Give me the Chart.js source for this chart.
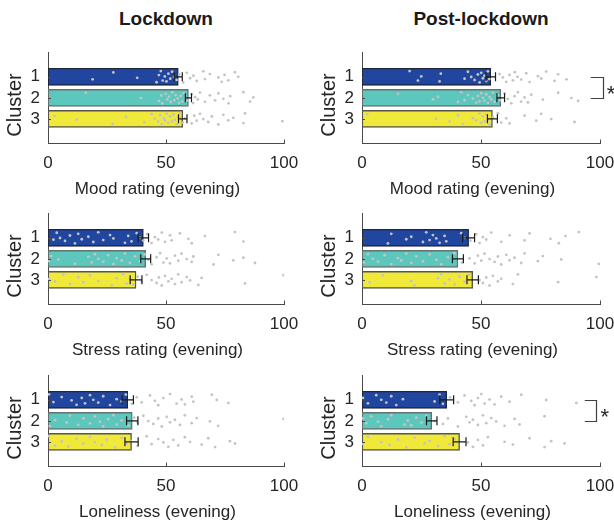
<!DOCTYPE html>
<html>
<head>
<meta charset="utf-8">
<script src="https://cdn.jsdelivr.net/npm/chart.js@4.4.1/dist/chart.umd.min.js"></script>
<style>
  html, body { margin: 0; padding: 0; background: #fff; }
  body { position: relative; width: 614px; height: 521px; overflow: hidden; font-family: "Liberation Sans", Arial, sans-serif; }
  .coltitle { position: absolute; top: 8px; width: 240px; text-align: center; font-weight: bold; font-size: 19px; color: #1a1a1a; }
  canvas { position: absolute; }
</style>
</head>
<body>
<div class="coltitle" id="t0"></div>
<div class="coltitle" id="t1"></div>
<script>
// ---- data ----
const PERIODS = ['Lockdown', 'Post-lockdown'];
const MEASURES = ['Mood rating (evening)', 'Stress rating (evening)', 'Loneliness (evening)'];
const CLUSTERS = ['1', '2', '3'];
const X_TICKS = [0, 50, 100];

// cluster means and standard errors
const MOOD_LOCK_MEAN = [55.2, 59.5, 57.1];
const MOOD_LOCK_SE = [1.7, 1.3, 1.8];
const MOOD_POST_MEAN = [54.1, 58.3, 54.8];
const MOOD_POST_SE = [2.0, 1.6, 2.1];
const STRESS_LOCK_MEAN = [40.4, 41.4, 37.3];
const STRESS_LOCK_SE = [2.2, 2.1, 2.5];
const STRESS_POST_MEAN = [44.8, 40.3, 46.5];
const STRESS_POST_SE = [2.5, 2.3, 2.4];
const LONELY_LOCK_MEAN = [33.8, 35.7, 35.4];
const LONELY_LOCK_SE = [2.4, 2.4, 2.8];
const LONELY_POST_MEAN = [35.6, 29.3, 41.0];
const LONELY_POST_SE = [2.9, 2.2, 2.7];

// individual participant ratings per cluster
const MOOD_LOCK_C1 = [18.9, 27.7, 37.8, 46.0, 47.0, 47.8, 48.6, 49.5, 50.2, 51.0, 51.8, 52.6, 53.4, 54.5, 55.6, 57.3, 58.8, 60.2, 61.6, 63.0, 65.8, 66.5, 68.6, 72.2, 73.6, 74.8, 76.4, 79.2, 80.6];
const MOOD_LOCK_C2 = [16.0, 39.3, 47.0, 48.0, 48.4, 49.9, 50.5, 51.3, 52.0, 52.7, 53.5, 54.1, 55.0, 55.5, 56.2, 56.9, 57.5, 58.3, 59.0, 60.9, 61.5, 62.3, 63.5, 64.4, 66.5, 68.6, 70.8, 72.2, 74.3, 76.5, 77.2, 82.8, 85.6, 87.0];
const MOOD_LOCK_C3 = [2.7, 12.1, 27.4, 33.1, 40.8, 43.9, 45.3, 46.7, 47.5, 48.2, 49.0, 49.6, 50.3, 51.0, 51.7, 52.4, 53.1, 53.8, 54.5, 55.2, 56.0, 57.1, 58.0, 60.9, 62.0, 63.0, 64.4, 65.8, 67.9, 69.4, 72.2, 74.3, 76.4, 78.5, 82.8, 83.5, 99.3];
const MOOD_POST_C1 = [20.0, 23.5, 24.9, 32.6, 33.1, 43.1, 44.5, 45.9, 47.3, 48.7, 49.4, 50.1, 50.8, 51.5, 52.2, 52.9, 53.5, 57.8, 59.2, 60.6, 62.0, 63.4, 64.2, 65.3, 66.9, 69.0, 70.4, 73.9, 75.3, 77.4, 80.9, 82.4, 85.9];
const MOOD_POST_C2 = [15.1, 29.8, 31.9, 40.3, 41.7, 43.1, 44.5, 46.6, 48.0, 48.7, 49.4, 50.1, 50.8, 51.5, 52.2, 52.9, 53.6, 54.3, 55.0, 55.7, 57.1, 58.0, 59.9, 61.3, 62.7, 64.1, 65.5, 66.9, 68.3, 69.7, 71.1, 76.0, 82.4, 88.0, 90.8];
const MOOD_POST_C3 = [2.2, 31.2, 36.8, 40.3, 42.4, 46.6, 48.0, 49.4, 50.1, 50.8, 51.5, 52.2, 52.9, 53.6, 55.0, 57.1, 58.5, 60.6, 62.0, 68.3, 73.2, 75.3, 79.5, 89.3];
const STRESS_LOCK_C1 = [2.3, 3.7, 5.1, 7.2, 9.3, 11.4, 12.8, 14.3, 17.1, 19.2, 21.3, 23.4, 26.3, 27.7, 32.6, 34.0, 35.4, 37.6, 39.0, 40.4, 42.0, 43.9, 45.3, 46.7, 48.2, 49.6, 51.7, 52.4, 55.9, 59.5, 60.9, 66.5, 79.2, 82.8];
const STRESS_LOCK_C2 = [0.4, 1.3, 4.4, 11.4, 17.1, 18.5, 19.9, 21.3, 23.4, 25.5, 27.7, 29.1, 31.2, 32.6, 34.7, 36.9, 39.0, 41.0, 42.5, 43.9, 46.0, 47.5, 48.9, 50.3, 51.7, 53.8, 55.2, 56.6, 58.8, 60.9, 61.6, 70.1, 72.2, 78.5, 82.8, 87.7];
const STRESS_LOCK_C3 = [0.4, 3.0, 6.5, 9.3, 12.8, 15.0, 17.8, 21.3, 27.0, 29.1, 31.9, 33.3, 34.7, 36.2, 38.0, 39.7, 41.8, 43.9, 46.0, 47.0, 48.2, 49.6, 51.0, 52.4, 53.8, 55.2, 56.6, 58.8, 60.2, 63.7, 65.1, 83.5, 99.8];
const STRESS_POST_C1 = [10.9, 12.3, 18.6, 20.7, 25.6, 27.0, 28.4, 29.8, 31.2, 32.6, 34.7, 35.4, 41.7, 43.1, 45.5, 48.0, 49.4, 50.8, 52.2, 54.3, 58.5, 62.0, 68.3, 70.4, 79.2, 82.7, 85.5, 91.1];
const STRESS_POST_C2 = [0.8, 2.5, 4.6, 6.7, 9.5, 12.3, 15.1, 16.5, 18.6, 20.7, 22.8, 25.6, 28.4, 31.2, 33.3, 36.1, 38.9, 42.0, 45.2, 47.3, 48.7, 50.1, 51.5, 53.6, 55.7, 57.1, 58.5, 60.6, 62.0, 64.1, 66.9, 68.3, 73.9, 76.0, 83.7, 99.5];
const STRESS_POST_C3 = [3.2, 8.8, 20.7, 22.0, 31.9, 33.3, 34.7, 36.8, 38.9, 41.0, 43.1, 45.0, 49.4, 50.8, 52.2, 53.6, 55.0, 57.1, 58.5, 63.4, 65.5, 82.4, 98.5];
const LONELY_LOCK_C1 = [0.4, 2.3, 5.8, 10.0, 12.1, 14.3, 15.7, 17.8, 19.2, 21.3, 23.4, 26.3, 29.1, 31.2, 33.0, 35.5, 37.6, 39.7, 43.2, 45.3, 46.7, 48.9, 51.7, 54.5, 56.6, 58.0, 60.9, 61.6, 69.4, 71.5, 76.4];
const LONELY_LOCK_C2 = [0.8, 3.0, 7.9, 9.3, 12.8, 15.0, 17.8, 19.9, 22.0, 23.4, 25.5, 27.7, 29.1, 31.2, 34.0, 36.5, 38.0, 40.4, 42.5, 44.6, 46.7, 48.2, 50.3, 51.7, 53.8, 55.9, 58.0, 60.9, 63.0, 68.6, 72.1, 99.8];
const LONELY_LOCK_C3 = [0.2, 3.0, 5.8, 8.6, 12.1, 15.0, 17.8, 19.9, 22.8, 24.9, 28.4, 31.2, 33.3, 35.0, 38.0, 41.8, 43.9, 46.7, 48.9, 51.0, 53.1, 55.2, 58.0, 60.2, 65.1, 67.9, 70.8, 77.1, 79.2];
const LONELY_POST_C1 = [0.4, 2.5, 6.0, 8.1, 10.2, 12.3, 14.4, 17.2, 30.5, 32.6, 34.0, 37.0, 40.3, 43.1, 45.9, 47.3, 48.7, 50.1, 51.5, 53.6, 55.7, 58.5, 62.0, 66.9, 77.4, 90.1];
const LONELY_POST_C2 = [0.4, 1.8, 3.9, 6.7, 8.1, 10.9, 12.3, 17.9, 19.3, 20.7, 22.8, 25.0, 27.0, 30.5, 34.0, 36.1, 40.3, 43.8, 45.2, 46.6, 48.7, 50.8, 52.2, 54.3, 56.4, 59.9, 64.1, 66.2, 76.7];
const LONELY_POST_C3 = [0.4, 2.5, 8.1, 11.6, 15.1, 18.6, 22.1, 26.3, 28.4, 31.9, 34.7, 36.8, 39.0, 44.5, 46.6, 48.7, 50.8, 52.9, 59.9, 63.4, 70.4, 76.7, 79.5, 85.1];

// fixed vertical jitter (in cluster units) for the individual dots
const JITTER = [0.12, -0.21, 0.05, 0.26, -0.08, -0.27, 0.18, -0.02, 0.22, -0.15, 0.09, -0.24, 0.01, 0.15, -0.11, 0.27, -0.19, 0.07, -0.05, 0.20, -0.26, 0.11, -0.13, 0.03, 0.24, -0.09, 0.17, -0.22, 0.00, 0.13, -0.17, 0.25, -0.03, 0.08, -0.25, 0.19, -0.12];

// ---- styling ----
const FONT = '"Liberation Sans", Arial, Helvetica, sans-serif';
const TEXT = '#262626';
const AXIS = '#4a4a4a';
const BAR_FILL = ['#2146a0', '#5cc7bc', '#f0e93a'];
const BAR_EDGE = ['#20263a', '#66706e', '#55554a'];
const DOT = '#c4c4c4';

const PANELS = [
  { col: 0, row: 0, xTitle: MEASURES[0], mean: MOOD_LOCK_MEAN, se: MOOD_LOCK_SE, pts: [MOOD_LOCK_C1, MOOD_LOCK_C2, MOOD_LOCK_C3] },
  { col: 1, row: 0, xTitle: MEASURES[0], mean: MOOD_POST_MEAN, se: MOOD_POST_SE, pts: [MOOD_POST_C1, MOOD_POST_C2, MOOD_POST_C3],
    sig: { pair: [1, 2], from: 96.1, to: 101.3, star: 104.6 } },
  { col: 0, row: 1, xTitle: MEASURES[1], mean: STRESS_LOCK_MEAN, se: STRESS_LOCK_SE, pts: [STRESS_LOCK_C1, STRESS_LOCK_C2, STRESS_LOCK_C3] },
  { col: 1, row: 1, xTitle: MEASURES[1], mean: STRESS_POST_MEAN, se: STRESS_POST_SE, pts: [STRESS_POST_C1, STRESS_POST_C2, STRESS_POST_C3] },
  { col: 0, row: 2, xTitle: MEASURES[2], mean: LONELY_LOCK_MEAN, se: LONELY_LOCK_SE, pts: [LONELY_LOCK_C1, LONELY_LOCK_C2, LONELY_LOCK_C3] },
  { col: 1, row: 2, xTitle: MEASURES[2], mean: LONELY_POST_MEAN, se: LONELY_POST_SE, pts: [LONELY_POST_C1, LONELY_POST_C2, LONELY_POST_C3],
    sig: { pair: [1, 2], from: 93.6, to: 98.4, star: 102.0 } }
];

const COL_LEFT = [0, 314];
const COL_WIDTH = [307, 300];
const COL_PAD_RIGHT = [23, 14];
const ROW_TOP = [40, 201, 363];
const CANVAS_H = 161;

document.getElementById('t0').textContent = PERIODS[0];
document.getElementById('t0').style.left = (166 - 120) + 'px';
document.getElementById('t1').textContent = PERIODS[1];
document.getElementById('t1').style.left = (314 + 167 - 120) + 'px';

function dots(groups, shift) {
  const out = [];
  groups.forEach((vals, i) => {
    vals.forEach((v, j) => {
      out.push({ x: v, y: Number(CLUSTERS[i]) + JITTER[(j + shift + i * 11) % JITTER.length] });
    });
  });
  return out;
}

// error bars, inward ticks, axis titles and significance brackets
const panelDecor = {
  id: 'panelDecor',
  afterDatasetsDraw(chart) {
    const cfg = chart.options.plugins.panelDecor;
    const { ctx, scales: { x, y } } = chart;
    ctx.save();
    ctx.strokeStyle = '#1a1a1a';
    ctx.lineWidth = 1.2;
    cfg.mean.forEach((m, i) => {
      const py = y.getPixelForValue(Number(CLUSTERS[i]));
      const x0 = x.getPixelForValue(m - cfg.se[i]);
      const x1 = x.getPixelForValue(m + cfg.se[i]);
      ctx.beginPath();
      ctx.moveTo(x0, py); ctx.lineTo(x1, py);
      ctx.moveTo(x0, py - 4.5); ctx.lineTo(x0, py + 4.5);
      ctx.moveTo(x1, py - 4.5); ctx.lineTo(x1, py + 4.5);
      ctx.stroke();
    });
    ctx.restore();
  },
  afterDraw(chart) {
    const cfg = chart.options.plugins.panelDecor;
    const { ctx, chartArea: a, scales: { x, y } } = chart;
    ctx.save();
    // tick marks pointing into the plot
    ctx.strokeStyle = AXIS;
    ctx.lineWidth = 1;
    ctx.beginPath();
    X_TICKS.forEach(v => {
      const px = Math.round(x.getPixelForValue(v)) + 0.5;
      ctx.moveTo(px, a.bottom); ctx.lineTo(px, a.bottom - 3.5);
    });
    CLUSTERS.forEach(c => {
      const py = Math.round(y.getPixelForValue(Number(c))) + 0.5;
      ctx.moveTo(a.left, py); ctx.lineTo(a.left + 3, py);
    });
    ctx.stroke();

    // axis titles
    ctx.fillStyle = TEXT;
    ctx.font = '17px ' + FONT;
    ctx.textAlign = 'center';
    ctx.textBaseline = 'alphabetic';
    ctx.fillText(cfg.xTitle, (a.left + a.right) / 2 - 8.5, a.bottom + 51);
    ctx.save();
    ctx.translate(a.left - 32.5, (a.top + a.bottom) / 2 + 7.5);
    ctx.rotate(-Math.PI / 2);
    ctx.font = '20px ' + FONT;
    ctx.textBaseline = 'middle';
    ctx.fillText('Cluster', 0, 0);
    ctx.restore();

    // significance bracket between two clusters
    if (cfg.sig) {
      const s = cfg.sig;
      const ya = Math.round(y.getPixelForValue(s.pair[0])) + 0.5;
      const yb = Math.round(y.getPixelForValue(s.pair[1])) + 0.5;
      const xa = x.getPixelForValue(s.from);
      const xb = Math.round(x.getPixelForValue(s.to)) + 0.5;
      ctx.strokeStyle = '#404040';
      ctx.lineWidth = 1.2;
      ctx.beginPath();
      ctx.moveTo(xa, ya); ctx.lineTo(xb, ya); ctx.lineTo(xb, yb); ctx.lineTo(xa, yb);
      ctx.stroke();
      ctx.fillStyle = TEXT;
      ctx.font = '22px ' + FONT;
      ctx.textAlign = 'center';
      ctx.textBaseline = 'alphabetic';
      ctx.fillText('*', x.getPixelForValue(s.star), (ya + yb) / 2 + 12.5);
    }
    ctx.restore();
  }
};

PANELS.forEach((p, k) => {
  const cv = document.createElement('canvas');
  const w = COL_WIDTH[p.col];
  cv.width = w; cv.height = CANVAS_H;
  cv.style.left = COL_LEFT[p.col] + 'px';
  cv.style.top = ROW_TOP[p.row] + 'px';
  cv.style.width = w + 'px';
  cv.style.height = CANVAS_H + 'px';
  document.body.appendChild(cv);

  new Chart(cv, {
    type: 'bar',
    data: {
      datasets: [
        {
          type: 'bar',
          data: CLUSTERS.map((c, i) => ({ x: p.mean[i], y: Number(c) })),
          backgroundColor: BAR_FILL,
          borderColor: BAR_EDGE,
          borderWidth: 1.4,
          borderSkipped: false,
          barThickness: 17,
          order: 2
        },
        {
          type: 'scatter',
          data: dots(p.pts, k * 5),
          backgroundColor: DOT,
          borderWidth: 0,
          pointRadius: 1.4,
          pointHoverRadius: 1.4,
          order: 1
        }
      ]
    },
    options: {
      indexAxis: 'y',
      responsive: false,
      animation: false,
      devicePixelRatio: 1,
      events: [],
      layout: { padding: { top: 12, right: COL_PAD_RIGHT[p.col], left: 0, bottom: 0 } },
      plugins: {
        legend: { display: false },
        tooltip: { enabled: false },
        panelDecor: { mean: p.mean, se: p.se, xTitle: p.xTitle, sig: p.sig || null }
      },
      scales: {
        x: {
          type: 'linear', position: 'bottom', min: 0, max: 100, offset: false,
          afterBuildTicks: s => { s.ticks = X_TICKS.map(v => ({ value: v })); },
          afterFit: s => { s.height = 58; s.paddingLeft = 0; s.paddingRight = 0; },
          grid: { display: false, drawTicks: false, offset: false },
          border: { display: true, color: AXIS, width: 1 },
          ticks: { padding: 10, color: TEXT, font: { family: FONT, size: 17 }, maxRotation: 0, autoSkip: false }
        },
        y: {
          type: 'linear', position: 'left', reverse: true, min: -0.18, max: 4.15, offset: false,
          afterBuildTicks: s => { s.ticks = CLUSTERS.map(c => ({ value: Number(c) })); },
          afterFit: s => { s.width = 48; s.paddingTop = 0; s.paddingBottom = 0; },
          grid: { display: false, drawTicks: false, offset: false },
          border: { display: true, color: AXIS, width: 1 },
          ticks: { padding: 8, color: TEXT, font: { family: FONT, size: 17 }, callback: v => String(v) }
        }
      }
    },
    plugins: [panelDecor]
  });
});
</script>
</body>
</html>
